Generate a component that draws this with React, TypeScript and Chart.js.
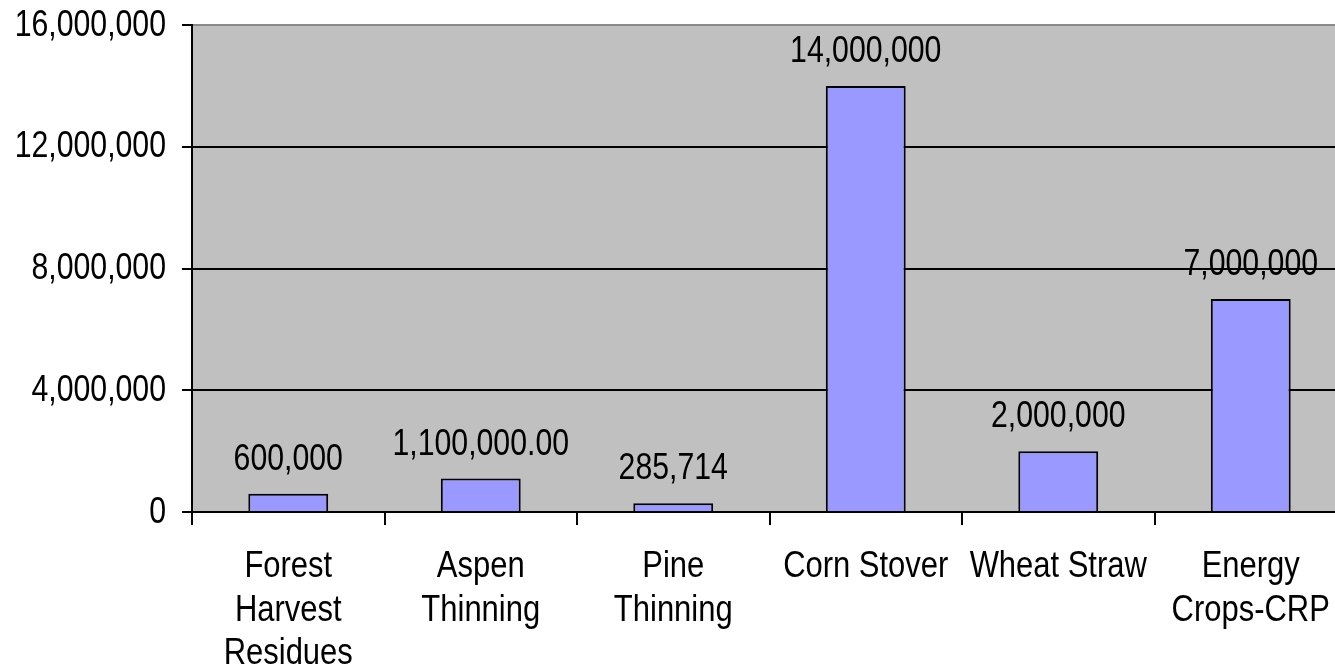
import React, { useEffect, useRef } from "react";
import { Chart, registerables } from "chart.js";

Chart.register(...registerables);

const categories: string[][] = [
  ["Forest", "Harvest", "Residues"],
  ["Aspen", "Thinning"],
  ["Pine", "Thinning"],
  ["Corn Stover"],
  ["Wheat Straw"],
  ["Energy", "Crops-CRP"],
];
const values = [600000, 1100000, 285714, 14000000, 2000000, 7000000];
const valueLabels = ["600,000", "1,100,000.00", "285,714", "14,000,000", "2,000,000", "7,000,000"];
const yMin = 0;
const yMax = 16000000;
const yStep = 4000000;

const FONT = '"Liberation Sans", Arial, sans-serif';
const FONT_SIZE = 36;

function drawText(ctx: CanvasRenderingContext2D, text: string, x: number, y: number, align: CanvasTextAlign, squeeze: number) {
  ctx.save();
  ctx.translate(x, y);
  ctx.scale(squeeze, 1);
  ctx.textAlign = align;
  ctx.textBaseline = "alphabetic";
  ctx.fillText(text, 0, 0);
  ctx.restore();
}

const bgPlugin = {
  id: "plotBg",
  beforeDraw(chart: any) {
    const { ctx, chartArea } = chart;
    ctx.save();
    ctx.fillStyle = "#C0C0C0";
    ctx.fillRect(chartArea.left, chartArea.top, chartArea.right - chartArea.left, chartArea.bottom - chartArea.top);
    ctx.restore();
  },
};

const textPlugin = {
  id: "textLabels",
  afterDraw(chart: any) {
    const { ctx } = chart;
    ctx.save();
    ctx.font = `${FONT_SIZE}px ${FONT}`;
    ctx.fillStyle = "#000";
    // value labels above bars
    const meta = chart.getDatasetMeta(0);
    meta.data.forEach((bar: any, i: number) => {
      drawText(ctx, valueLabels[i], bar.x, bar.y - 24, "center", 0.84);
    });
    // y-axis tick labels
    const ys = chart.scales.y;
    ys.ticks.forEach((t: any) => {
      const py = ys.getPixelForValue(t.value);
      drawText(ctx, Number(t.value).toLocaleString("en-US"), ys.right - 26, py + 10.5, "right", 0.84);
    });
    // x-axis category labels
    const xs = chart.scales.x;
    categories.forEach((lines, i) => {
      const px = xs.getPixelForValue(i);
      lines.forEach((line, j) => {
        drawText(ctx, line, px, xs.top + 65 + j * 43.5, "center", 0.86);
      });
    });
    ctx.restore();
  },
};

export default function App() {
  const ref = useRef<HTMLCanvasElement | null>(null);
  useEffect(() => {
    if (!ref.current) return;
    const chart = new Chart(ref.current, {
      type: "bar",
      data: {
        labels: categories.map((c) => c.join(" ")),
        datasets: [
          {
            data: values,
            backgroundColor: "#9999FF",
            borderColor: "#000",
            borderWidth: 2,
            barPercentage: 0.415,
            categoryPercentage: 1,
          },
        ],
      },
      options: {
        responsive: false,
        animation: false,
        layout: { padding: { top: 25, left: 0, right: 0, bottom: 0 } },
        plugins: { legend: { display: false }, tooltip: { enabled: false } },
        scales: {
          x: {
            grid: {
              offset: true,
              drawOnChartArea: false,
              drawTicks: true,
              tickLength: 13,
              color: "#000",
              lineWidth: 2,
            },
            border: { display: true, color: "#000", width: 2 },
            ticks: { display: false, autoSkip: false },
            afterFit(scale: any) {
              scale.height = 158;
            },
          },
          y: {
            min: yMin,
            max: yMax,
            grid: {
              color: (c: any) => (c.tick && c.tick.value === yMax ? "#8a8a8a" : "#000"),
              tickColor: "#000",
              lineWidth: 2,
              tickLength: 10,
            },
            border: { display: true, color: "#000", width: 2 },
            ticks: { display: false, stepSize: yStep },
            afterFit(scale: any) {
              scale.width = 192;
            },
          },
        },
      },
      plugins: [bgPlugin, textPlugin],
    });
    return () => chart.destroy();
  }, []);
  return (
    <div
      style={{
        position: "fixed",
        left: 0,
        top: 0,
        width: 1335,
        height: 670,
        overflow: "hidden",
        background: "#fff",
      }}
    >
      <canvas ref={ref} width={1347} height={670} style={{ display: "block", width: 1347, height: 670 }} />
    </div>
  );
}
